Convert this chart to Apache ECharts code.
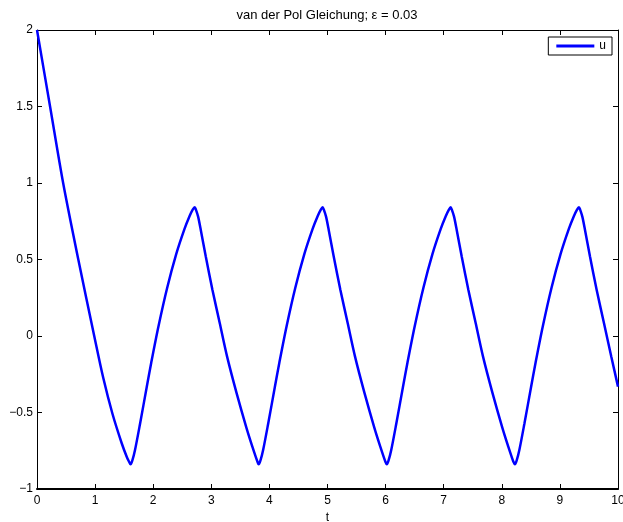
<!DOCTYPE html>
<html>
<head>
<meta charset="utf-8">
<script src="https://cdn.jsdelivr.net/npm/echarts@6/dist/echarts.min.js"></script>
<style>html,body{margin:0;padding:0;background:#fff;}#c{width:623px;height:522px;}</style>
</head>
<body>
<div id="c"></div>
<script>
// Values
var titleText = 'van der Pol Gleichung; \u03b5 = 0.03';
var seriesName = 'u';
var xName = 't';
var xTicks = [0, 1, 2, 3, 4, 5, 6, 7, 8, 9, 10];
var yTicks = [-1, -0.5, 0, 0.5, 1, 1.5, 2];

var tValues = [
  0, 0.225, 0.45, 0.711, 0.985, 1.141, 1.30, 1.458, 1.544, 1.585, 1.61,
  1.64, 1.687, 1.773, 1.888, 1.966, 2.092, 2.241, 2.396, 2.539, 2.625, 2.68, 2.715,
  2.735, 2.773, 2.819, 2.905, 3.02, 3.146, 3.272, 3.433, 3.605, 3.708, 3.765, 3.795, 3.815,
  3.845, 3.892, 3.978, 4.093, 4.171, 4.297, 4.446, 4.601, 4.744, 4.83, 4.885, 4.917,
  4.937, 4.975, 5.021, 5.107, 5.222, 5.348, 5.474, 5.635, 5.807, 5.91, 5.967, 5.997, 6.02,
  6.05, 6.097, 6.183, 6.298, 6.376, 6.502, 6.651, 6.806, 6.949, 7.035, 7.09, 7.12,
  7.14, 7.178, 7.224, 7.31, 7.425, 7.551, 7.677, 7.838, 8.01, 8.113, 8.17, 8.20, 8.225,
  8.255, 8.302, 8.388, 8.503, 8.581, 8.707, 8.856, 9.011, 9.154, 9.24, 9.295, 9.328,
  9.348, 9.386, 9.432, 9.518, 9.633, 9.759, 9.885, 10
];
var uValues = [
  2, 1.5, 1.0, 0.5, 0, -0.275, -0.51, -0.701, -0.789, -0.822, -0.839,
  -0.815, -0.745, -0.575, -0.335, -0.175, 0.065, 0.315, 0.535, 0.70, 0.783, 0.826, 0.841,
  0.826, 0.780, 0.693, 0.519, 0.301, 0.083, -0.135, -0.37, -0.60, -0.725, -0.79, -0.822, -0.839,
  -0.815, -0.745, -0.575, -0.335, -0.175, 0.065, 0.315, 0.535, 0.70, 0.783, 0.826, 0.841,
  0.826, 0.780, 0.693, 0.519, 0.301, 0.083, -0.135, -0.37, -0.60, -0.725, -0.79, -0.822, -0.839,
  -0.815, -0.745, -0.575, -0.335, -0.175, 0.065, 0.315, 0.535, 0.70, 0.783, 0.826, 0.841,
  0.826, 0.780, 0.693, 0.519, 0.301, 0.083, -0.135, -0.37, -0.60, -0.725, -0.79, -0.822, -0.839,
  -0.815, -0.745, -0.575, -0.335, -0.175, 0.065, 0.315, 0.535, 0.70, 0.783, 0.826, 0.841,
  0.826, 0.780, 0.693, 0.519, 0.301, 0.083, -0.135, -0.331
];

var data = tValues.map(function (t, i) { return [t, uValues[i]]; });
var FONT = '"Liberation Sans", Arial, Helvetica, sans-serif';
var fmt = function (v) { return String(v).replace('-', '\u2212'); };

function axisCommon(extra) {
  var base = {
    type: 'value',
    splitLine: { show: false },
    axisTick: { show: true, inside: true, length: 5, lineStyle: { color: '#000', width: 1 } },
    axisLabel: { color: '#000', fontSize: 12, fontFamily: FONT, formatter: fmt },
    axisLine: { show: true, onZero: false, lineStyle: { color: '#000', width: 1 } }
  };
  for (var k in extra) base[k] = extra[k];
  return base;
}

var chart = echarts.init(document.getElementById('c'), null, { renderer: 'canvas' });
chart.setOption({
  animation: false,
  backgroundColor: '#fff',
  grid: { left: 37, right: 5, top: 30, bottom: 33, containLabel: false, outerBoundsMode: 'none' },
  graphic: [{
    type: 'text', x: 327, y: 15,
    style: { text: titleText, fill: '#000', font: '13px ' + FONT, textAlign: 'center', textVerticalAlign: 'middle' }
  }],
  legend: {
    data: [{ name: seriesName, icon: 'rect' }],
    right: 11, top: 37,
    orient: 'vertical',
    backgroundColor: '#fff',
    borderColor: '#000', borderWidth: 1, borderRadius: 0,
    padding: [3, 6, 3, 8],
    itemWidth: 38, itemHeight: 3, itemGap: 4,
    textStyle: { color: '#000', fontSize: 12, fontFamily: FONT }
  },
  xAxis: [
    axisCommon({ min: xTicks[0], max: xTicks[xTicks.length - 1], interval: 1, position: 'bottom',
      name: xName, nameLocation: 'middle', nameGap: 20,
      nameTextStyle: { color: '#000', fontSize: 12, fontFamily: FONT },
      axisLine: { show: true, onZero: false, lineStyle: { color: '#000', width: 2 } },
      axisLabel: { color: '#000', fontSize: 12, fontFamily: FONT, margin: 6, formatter: fmt } }),
    axisCommon({ min: xTicks[0], max: xTicks[xTicks.length - 1], interval: 1, position: 'top',
      axisLabel: { show: false } })
  ],
  yAxis: [
    axisCommon({ min: yTicks[0], max: yTicks[yTicks.length - 1], interval: 0.5, position: 'left',
      axisLabel: { color: '#000', fontSize: 12, fontFamily: FONT, margin: 4, formatter: fmt } }),
    axisCommon({ min: yTicks[0], max: yTicks[yTicks.length - 1], interval: 0.5, position: 'right',
      axisLabel: { show: false } })
  ],
  series: [{
    name: seriesName,
    type: 'line',
    xAxisIndex: 0, yAxisIndex: 0,
    data: data,
    showSymbol: false, symbol: 'none',
    smooth: 0.3,
    lineStyle: { color: '#0000ff', width: 2.5 },
    itemStyle: { color: '#0000ff' }
  }]
});
</script>
</body>
</html>
